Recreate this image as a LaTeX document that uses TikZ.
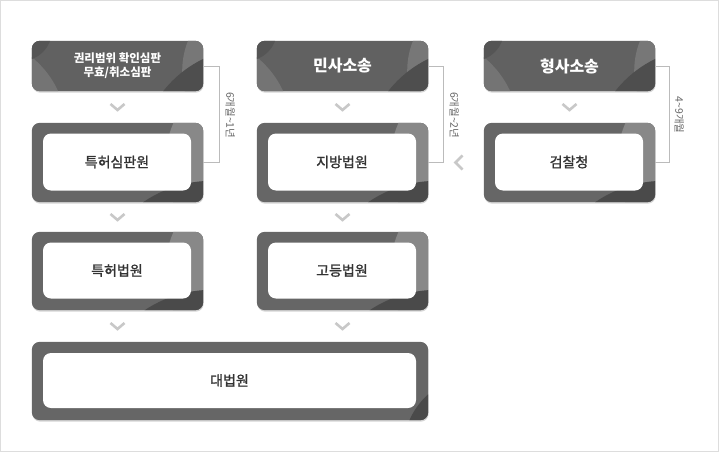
\documentclass[tikz,border=0pt]{standalone}
\usepackage{fontspec}
\newfontfamily\kr{Noto Sans CJK KR}
\newfontfamily\krm{Noto Sans CJK KR}[FakeBold=1.4]
\usetikzlibrary{calc}
\definecolor{headgray}{HTML}{616161}
\definecolor{framegray}{HTML}{666666}
\definecolor{framelight}{HTML}{888888}
\definecolor{framedark}{HTML}{4A4A4A}
\definecolor{txtgray}{HTML}{333333}
\definecolor{chevgray}{HTML}{C8C8C8}
\definecolor{brackgray}{HTML}{BBBBBB}
\definecolor{labgray}{HTML}{666666}
\definecolor{bordergray}{HTML}{DDDDDD}
\definecolor{shadowgray}{HTML}{D4D4D4}
\tikzset{
  headbox/.style={rounded corners=8pt, minimum width=171pt, minimum height=50pt, inner sep=0pt},
  framebox/.style={rounded corners=8pt, minimum width=171pt, inner sep=0pt},
  innerbox/.style={fill=white, rounded corners=8pt, minimum width=148pt, inner sep=0pt, text=txtgray, font=\krm\fontsize{14pt}{16pt}\selectfont},
  headtext/.style={text=white, align=center, font=\kr\bfseries\fontsize{16pt}{18pt}\selectfont},
  chev/.style={draw=chevgray, line width=2.6pt, line join=miter},
  bracket/.style={draw=brackgray, line width=0.8pt},
  blabel/.style={text=labgray, rotate=-90, inner sep=0pt, font=\kr\fontsize{10.5pt}{11pt}\selectfont},
}
\newcommand\shadowof[1]{%
  \fill[shadowgray, rounded corners=8pt] ($(#1.south west)+(0.5,1.5)$) rectangle ($(#1.north east)+(0.5,1.5)$);}
\newcommand\decohead[1]{%
  \begin{scope}
    \clip[rounded corners=8pt] (#1.south west) rectangle (#1.north east);
    \fill[color=headgray!88!white] ($(#1.north west)+(-60,90)$) circle[radius=95pt];
    \fill[color=headgray!88!black] ($(#1.north west)+(-10,-10)$) circle[radius=30pt];
    \fill[color=headgray!86!white] ($(#1.north east)+(59,30)$) circle[radius=80pt];
    \fill[color=headgray!80!black] ($(#1.north east)+(49,120)$) circle[radius=113pt];
  \end{scope}}
\newcommand\decorow[1]{%
  \begin{scope}
    \clip[rounded corners=8pt] (#1.south west) rectangle (#1.north east);
    \fill[framelight] ($(#1.north east)+(62,40)$) circle[radius=100pt];
    \fill[framedark] ($(#1.north east)+(9,180)$) circle[radius=122pt];
  \end{scope}}
\begin{document}
\begin{tikzpicture}[x=1pt,y=-1pt]
\useasboundingbox (0,0) rectangle (719,452);
\draw[bordergray, line width=1pt] (0.5,0.5) rectangle (718.5,451.5);

% box outlines (positions)
\node[headbox] (h1) at (117.5,66) {};
\node[headbox] (h2) at (342.5,66) {};
\node[headbox] (h3) at (569.5,66) {};
\node[framebox, minimum height=79pt] (r21) at (117.5,162.5) {};
\node[framebox, minimum height=79pt] (r22) at (342.5,162.5) {};
\node[framebox, minimum height=79pt] (r23) at (569.5,162.5) {};
\node[framebox, minimum height=78pt] (r31) at (117.5,271) {};
\node[framebox, minimum height=78pt] (r32) at (342.5,271) {};
\node[framebox, minimum width=396pt, minimum height=78pt] (r4) at (230,381) {};

\foreach \n in {h1,h2,h3,r21,r22,r23,r31,r32,r4} {\shadowof{\n}}
\foreach \n in {h1,h2,h3} {\fill[headgray, rounded corners=8pt] (\n.south west) rectangle (\n.north east);}
\foreach \n in {r21,r22,r23,r31,r32,r4} {\fill[framegray, rounded corners=8pt] (\n.south west) rectangle (\n.north east);}

% header
\decohead{h1}\decohead{h2}\decohead{h3}
\node[headtext, font=\kr\bfseries\fontsize{11.5pt}{14pt}\selectfont] (h1t) at (h1) {권리범위 확인심판\\무효/취소심판};
\node[headtext] (h2t) at (h2) {민사소송};
\node[headtext] (h3t) at (h3) {형사소송};

% row 2
\decorow{r21}\decorow{r22}\decorow{r23}
\node[innerbox, minimum height=57pt] (r21t) at ($(r21)+(-0.5,-0.5)$) {특허심판원};
\node[innerbox, minimum height=57pt] (r22t) at ($(r22)+(-0.5,-0.5)$) {지방법원};
\node[innerbox, minimum height=57pt] (r23t) at ($(r23)+(-0.5,-0.5)$) {검찰청};

% row 3
\decorow{r31}\decorow{r32}
\node[innerbox, minimum height=56pt] (r31t) at ($(r31)+(-0.5,-0.5)$) {특허법원};
\node[innerbox, minimum height=56pt] (r32t) at ($(r32)+(-0.5,-0.5)$) {고등법원};

% row 4
\begin{scope}
  \clip[rounded corners=8pt] (r4.south west) rectangle (r4.north east);
  \fill[framedark] ($(r4.south east)+(50,30)$) circle[radius=75pt];
\end{scope}
\node[innerbox, minimum width=373pt, minimum height=55pt] (r4t) at ($(r4)+(-0.5,-0.5)$) {대법원};

% down chevrons
\foreach \a/\b in {h1/r21,h2/r22,h3/r23,r21/r31,r22/r32} {
  \draw[chev] ($(\a.south)!0.5!(\b.north)+(-7,-3)$) -- ($(\a.south)!0.5!(\b.north)+(0,3)$) -- ($(\a.south)!0.5!(\b.north)+(7,-3)$);
}
\foreach \a in {r31,r32} {
  \draw[chev] ($(\a.south)!0.5!(\a.south|-r4.north)+(-7,-3)$) -- ($(\a.south)!0.5!(\a.south|-r4.north)+(0,3)$) -- ($(\a.south)!0.5!(\a.south|-r4.north)+(7,-3)$);
}

% left chevron
\coordinate (lc) at ($(r22.east)!0.5!(r23.west)+(3,0)$);
\draw[chev] ($(lc)+(3.5,-7)$) -- ($(lc)+(-3.5,0)$) -- ($(lc)+(3.5,7)$);

% brackets
\draw[bracket] (h1.east) -- ++(16,0) coordinate (b1) |- (r21.east);
\draw[bracket] (h2.east) -- ++(15,0) coordinate (b2) |- (r22.east);
\draw[bracket] (h3.east) -- ++(14,0) coordinate (b3) |- (r23.east);
\node[blabel] (l1) at ($(b1|-h1.east)!0.5!(b1|-r21.east)+(11,1)$) {6개월\textasciitilde 1년};
\node[blabel] (l2) at ($(b2|-h2.east)!0.5!(b2|-r22.east)+(11,1)$) {6개월\textasciitilde 2년};
\node[blabel] (l3) at ($(b3|-h3.east)!0.5!(b3|-r23.east)+(10,1)$) {4\textasciitilde 9개월};
\end{tikzpicture}
\end{document}
